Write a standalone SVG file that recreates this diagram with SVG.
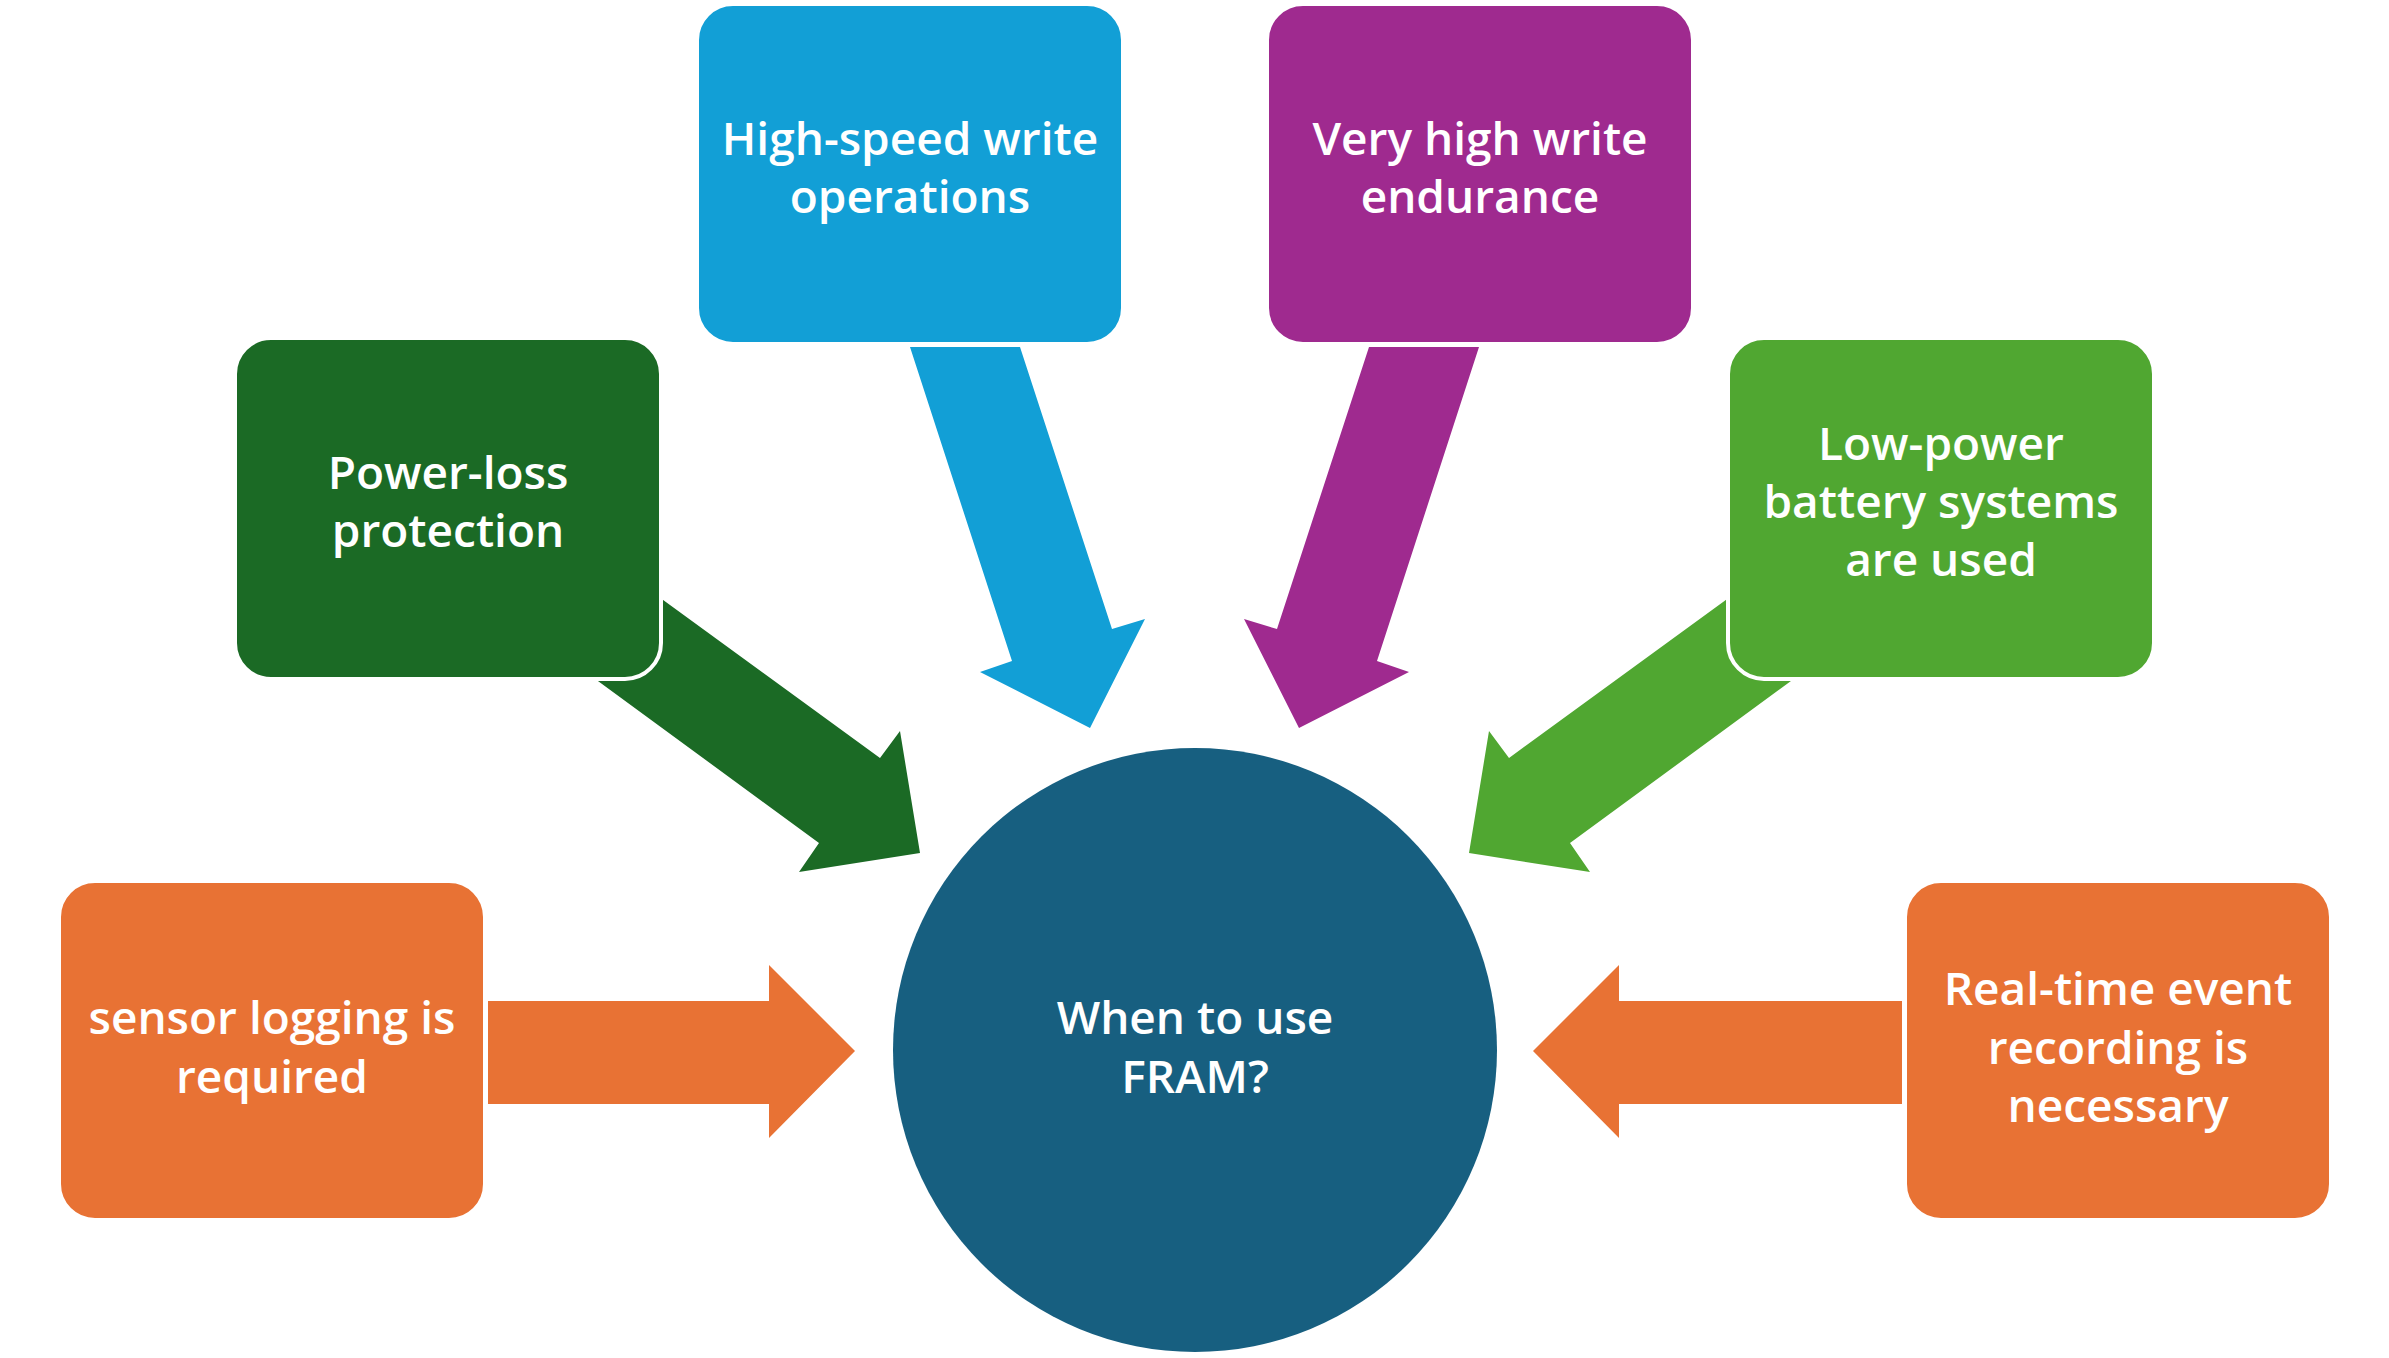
<svg xmlns="http://www.w3.org/2000/svg" width="2389" height="1358" viewBox="0 0 2389 1358">
<style>
.box{stroke:#fff;stroke-width:4}
.t{font-family:"Open Sans","Noto Sans","Liberation Sans",sans-serif;font-size:46px;font-weight:600;fill:#fff;text-anchor:middle}
</style>
<rect width="2389" height="1358" fill="#fff"/>
<g id="connectors">
<polygon fill="#129FD6" points="910,347 1020,347 1112,629 1145,619 1090,728 980,672 1012,661"/>
<polygon fill="#9F2A8F" points="1479,347 1369,347 1277,629 1244,619 1299,728 1409,672 1377,661"/>
<polygon fill="#1B6A25" points="600,554 880,758 900,731 920,853 799,872 819,843 542,640"/>
<polygon fill="#50A731" points="1789,554 1509,758 1489,731 1469,853 1590,872 1570,843 1847,640"/>
<polygon fill="#E87234" points="488,1001 769,1001 769,965 855,1051 769,1138 769,1104 488,1104"/>
<polygon fill="#E87234" points="1902,1001 1619,1001 1619,965 1533,1051 1619,1138 1619,1104 1902,1104"/>
</g>
<g id="n-center">
<circle cx="1195" cy="1050" r="302" fill="#175F80"/>
<text class="t"><tspan x="1195" y="1034">When to use</tspan><tspan x="1195" y="1093">FRAM?</tspan></text>
</g>
<g id="n-highspeed">
<rect class="box" x="697" y="4" width="426" height="340" rx="36" fill="#129FD6"/>
<text class="t"><tspan x="910" y="155">High-speed write</tspan><tspan x="910" y="213">operations</tspan></text>
</g>
<g id="n-endurance">
<rect class="box" x="1267" y="4" width="426" height="340" rx="36" fill="#9F2A8F"/>
<text class="t"><tspan x="1480" y="155">Very high write</tspan><tspan x="1480" y="213">endurance</tspan></text>
</g>
<g id="n-powerloss">
<rect class="box" x="235" y="338" width="426" height="341" rx="36" fill="#1B6A25"/>
<text class="t"><tspan x="448" y="489">Power-loss</tspan><tspan x="448" y="547">protection</tspan></text>
</g>
<g id="n-lowpower">
<rect class="box" x="1728" y="338" width="426" height="341" rx="36" fill="#50A731"/>
<text class="t"><tspan x="1941" y="460">Low-power</tspan><tspan x="1941" y="518">battery systems</tspan><tspan x="1941" y="576">are used</tspan></text>
</g>
<g id="n-sensor">
<rect class="box" x="59" y="881" width="426" height="339" rx="36" fill="#E87234"/>
<text class="t"><tspan x="272" y="1034">sensor logging is</tspan><tspan x="272" y="1093">required</tspan></text>
</g>
<g id="n-realtime">
<rect class="box" x="1905" y="881" width="426" height="339" rx="36" fill="#E87234"/>
<text class="t"><tspan x="2118" y="1005">Real-time event</tspan><tspan x="2118" y="1064">recording is</tspan><tspan x="2118" y="1122">necessary</tspan></text>
</g>
</svg>
